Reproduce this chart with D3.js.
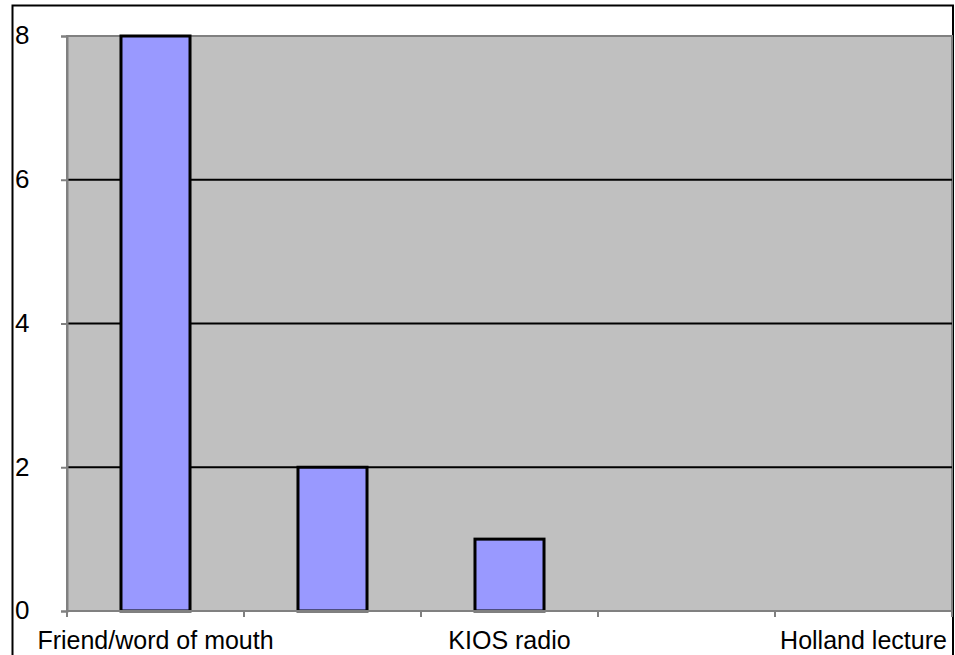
<!DOCTYPE html>
<html>
<head>
<meta charset="utf-8">
<script src="https://cdn.jsdelivr.net/npm/d3@7/dist/d3.min.js"></script>
<style>
  body { margin: 0; background: #fff; }
  text { font-family: "Liberation Sans", Arial, sans-serif; fill: #000; }
</style>
</head>
<body>
<script>
// categories (only every other one gets a label in the original)
var categories = ["Friend/word of mouth", "", "KIOS radio", "", "Holland lecture"];
var counts = [8, 2, 1, 0, 0];
var yTicks = [0, 2, 4, 6, 8];

var w = 955, h = 655;
var plotLeft = 67, plotRight = 952, plotTop = 36, plotBottom = 611;

var svg = d3.select("body").append("svg")
    .attr("width", w)
    .attr("height", h);

// outer chart border
svg.append("rect")
    .attr("x", 12.5).attr("y", 5.5)
    .attr("width", 940.5).attr("height", 660)
    .attr("fill", "#fff")
    .attr("stroke", "#000")
    .attr("stroke-width", 2);

var xScale = d3.scaleBand()
    .domain(d3.range(categories.length))
    .range([plotLeft, plotRight])
    .padding(0);

var yScale = d3.scaleLinear()
    .domain([0, 8])
    .range([plotBottom, plotTop]);

// plot area
svg.append("rect")
    .attr("x", plotLeft).attr("y", plotTop)
    .attr("width", plotRight - plotLeft).attr("height", plotBottom - plotTop)
    .attr("fill", "#c0c0c0")
    .attr("stroke", "#808080")
    .attr("stroke-width", 2);

// gridlines
svg.selectAll("line.grid")
    .data(yTicks.filter(d => d > 0 && d < 8))
    .enter().append("line")
    .attr("class", "grid")
    .attr("x1", plotLeft).attr("x2", plotRight)
    .attr("y1", d => yScale(d)).attr("y2", d => yScale(d))
    .attr("stroke", "#000")
    .attr("stroke-width", 2);

// y axis
var yAxis = d3.axisLeft(yScale).tickValues(yTicks).tickSize(6).tickFormat(d3.format("d"));
var gy = svg.append("g")
    .attr("transform", "translate(" + plotLeft + ",0)")
    .call(yAxis);
gy.select(".domain").attr("stroke", "#808080").attr("stroke-width", 2);
gy.selectAll(".tick line").attr("stroke", "#808080").attr("stroke-width", 2);
gy.selectAll(".tick text")
    .attr("x", 15 - plotLeft)
    .attr("dy", "0.3em")
    .attr("text-anchor", "start")
    .attr("font-size", 26)
    .attr("font-family", "Liberation Sans, Arial, sans-serif");

// bars
var bw = xScale.bandwidth() * 0.39;
svg.selectAll("rect.bar")
    .data(counts)
    .enter().append("rect")
    .attr("class", "bar")
    .filter(d => d > 0)
    .attr("x", (d, i) => xScale(i) + xScale.bandwidth() / 2 - bw / 2)
    .attr("y", d => yScale(d))
    .attr("width", bw)
    .attr("height", d => yScale(0) - yScale(d))
    .attr("fill", "#9999ff")
    .attr("stroke", "#000")
    .attr("stroke-width", 3);

// x axis line and ticks between categories
svg.append("line")
    .attr("x1", plotLeft).attr("x2", plotRight)
    .attr("y1", plotBottom).attr("y2", plotBottom)
    .attr("stroke", "#808080").attr("stroke-width", 2);

svg.selectAll("line.xtick")
    .data(d3.range(categories.length + 1))
    .enter().append("line")
    .attr("class", "xtick")
    .attr("x1", i => plotLeft + i * xScale.bandwidth())
    .attr("x2", i => plotLeft + i * xScale.bandwidth())
    .attr("y1", plotBottom).attr("y2", plotBottom + 6)
    .attr("stroke", "#808080").attr("stroke-width", 2);

svg.selectAll("text.xlabel")
    .data(categories)
    .enter().append("text")
    .attr("class", "xlabel")
    .attr("x", (d, i) => xScale(i) + xScale.bandwidth() / 2)
    .attr("y", 649)
    .attr("text-anchor", "middle")
    .attr("font-size", 25)
    .text(d => d);
</script>
</body>
</html>
